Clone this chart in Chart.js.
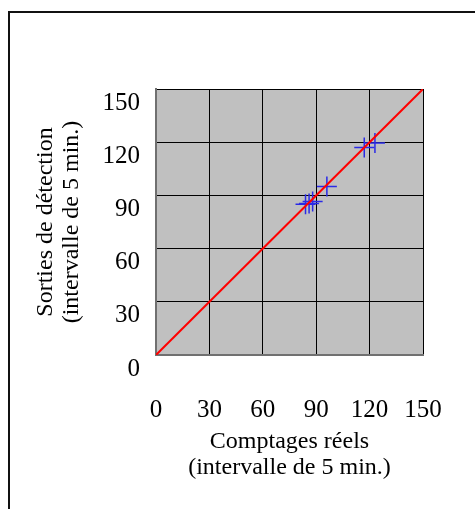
<!DOCTYPE html>
<html>
<head>
<meta charset="utf-8">
<script src="https://cdn.jsdelivr.net/npm/chart.js@4/dist/chart.umd.min.js"></script>
<style>
  html, body { margin: 0; padding: 0; background: #ffffff; }
  #wrap { position: relative; width: 475px; height: 509px; overflow: hidden; }
  #frame { position: absolute; left: 8px; top: 11px; width: 480px; height: 520px;
           border-left: 2px solid #111; border-top: 2px solid #111; pointer-events: none; }
  canvas { position: absolute; left: 0; top: 0; }
</style>
</head>
<body>
<div id="wrap">
  <canvas id="c" width="475" height="509"></canvas>
  <div id="frame"></div>
</div>
<script>
// Observed points: actual counts (x) vs detector outputs (y), 5-min intervals
const actualCounts   = [84, 86, 88, 96, 117, 123];
const detectorOutput = [85, 85.5, 86.5, 95, 117, 119.5];
// Reference line y = x
const refLineX = [0, 150];
const refLineY = [0, 150];
const tickValues = [0, 30, 60, 90, 120, 150];
const xTitle = ['Comptages réels', '(intervalle de 5 min.)'];
const yTitle = ['Sorties de détection', '(intervalle de 5 min.)'];

const points = actualCounts.map((x, i) => ({ x: x, y: detectorOutput[i] }));
const refLine = refLineX.map((x, i) => ({ x: x, y: refLineY[i] }));

const plotBg = {
  id: 'plotBg',
  beforeDraw(chart) {
    const { ctx, chartArea: a } = chart;
    ctx.save();
    ctx.fillStyle = '#ffffff';
    ctx.fillRect(0, 0, chart.width, chart.height);
    ctx.fillStyle = '#c0c0c0';
    ctx.fillRect(a.left, a.top, a.right - a.left, a.bottom - a.top);
    ctx.restore();
  }
};

const serif = 'Liberation Serif';

new Chart(document.getElementById('c'), {
  type: 'scatter',
  data: {
    datasets: [
      {
        label: 'y = x',
        data: refLine,
        showLine: true,
        borderColor: '#ff0000',
        borderWidth: 2,
        pointRadius: 0,
        fill: false
      },
      {
        label: 'Observations',
        data: points,
        pointStyle: 'cross',
        pointRadius: 10,
        pointHoverRadius: 10,
        borderColor: '#2a2ae6',
        backgroundColor: '#2a2ae6',
        pointBorderWidth: 1.5,
        showLine: false
      }
    ]
  },
  plugins: [plotBg],
  options: {
    responsive: false,
    animation: false,
    events: [],
    layout: { padding: { left: 33, top: 89, right: 52, bottom: 28 } },
    plugins: {
      legend: { display: false },
      tooltip: { enabled: false }
    },
    scales: {
      x: {
        type: 'linear',
        min: 0, max: 150,
        afterBuildTicks(s) { s.ticks = tickValues.map(v => ({ value: v })); },
        afterFit(s) { s.height = 126; s.paddingRight = 0; s.paddingLeft = 0; },
        grid: { color: '#000000', lineWidth: 1, drawTicks: false },
        border: { color: '#707070', width: 2 },
        ticks: {
          padding: 40,
          color: '#000000',
          maxRotation: 0,
          font: { family: serif, size: 25 },
          callback: v => String(v)
        },
        title: {
          display: true,
          text: xTitle,
          color: '#000000',
          padding: 0,
          font: { family: serif, size: 24, lineHeight: '26px' }
        }
      },
      y: {
        type: 'linear',
        min: 0, max: 150,
        afterBuildTicks(s) { s.ticks = tickValues.map(v => ({ value: v })); },
        afterFit(s) { s.width = 123; s.paddingTop = 0; s.paddingBottom = 0; },
        grid: { color: '#000000', lineWidth: 1, drawTicks: false },
        border: { color: '#707070', width: 2 },
        ticks: {
          padding: 16,
          labelOffset: 14,
          color: '#000000',
          font: { family: serif, size: 25 },
          callback: v => String(v)
        },
        title: {
          display: true,
          text: yTitle,
          color: '#000000',
          padding: 0,
          font: { family: serif, size: 24, lineHeight: '26px' }
        }
      }
    }
  }
});
</script>
</body>
</html>
